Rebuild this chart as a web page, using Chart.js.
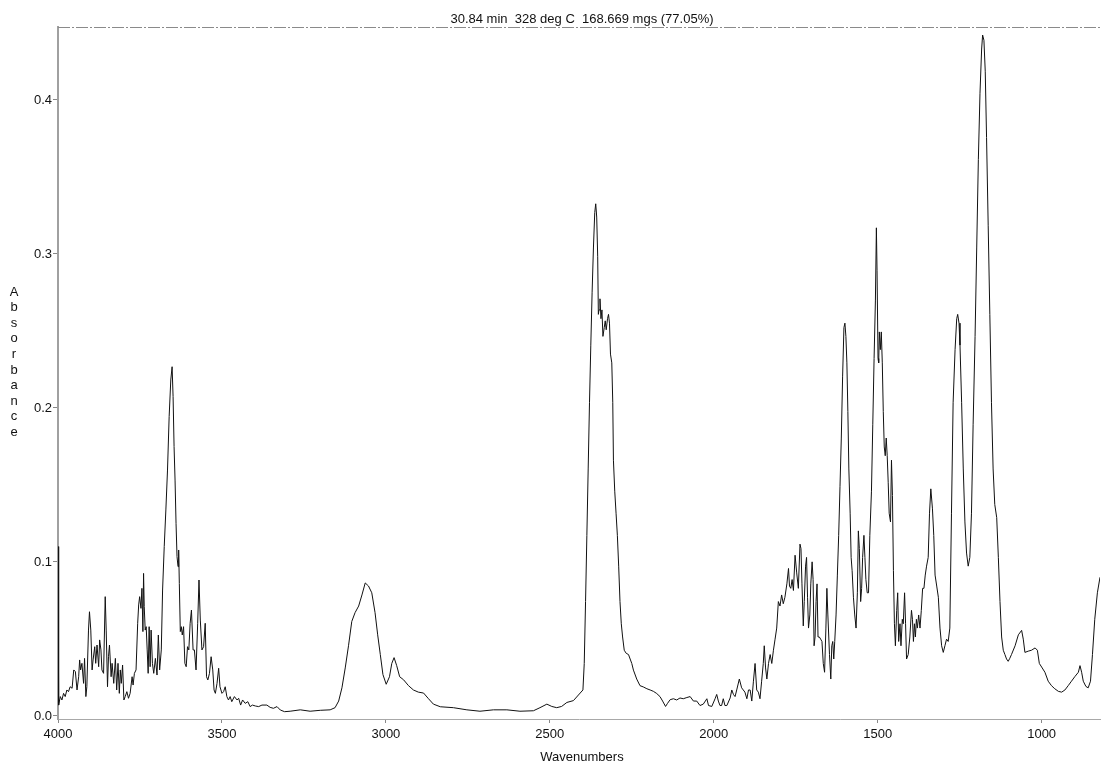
<!DOCTYPE html>
<html lang="en">

<head>
    <meta charset="UTF-8">
    <title>Absorbance spectrum</title>
    <script src="https://cdn.jsdelivr.net/npm/chart.js"></script>
    <style>
        body {
            margin: 0;
            background: #fff;
        }

        .chart-container {
            position: relative;
            width: 1101px;
            height: 762px;
        }
    </style>
</head>

<body>
    <div class="chart-container">
        <canvas id="spectrumChart"></canvas>
    </div>
    <script>
        // Spectrum points, wavenumber (cm-1) and absorbance
        const wavenumbers = [
            4000, 3998, 3993, 3988, 3983, 3978, 3973, 3968, 3963, 3957, 3952, 3947, 3942, 3937, 3934, 3931, 3927, 3922, 3919, 3915,
            3912, 3907, 3904, 3900, 3896, 3893, 3888, 3885, 3881, 3876, 3873, 3869, 3866, 3861, 3856, 3853, 3849, 3846, 3843, 3838,
            3835, 3830, 3825, 3821, 3817, 3813, 3810, 3807, 3803, 3799, 3795, 3790, 3785, 3780, 3774, 3771, 3767, 3762, 3757, 3754,
            3751, 3747, 3744, 3741, 3739, 3737, 3734, 3731, 3728, 3725, 3722, 3719, 3716, 3712, 3708, 3703, 3698, 3694, 3690, 3685,
            3681, 3676, 3671, 3666, 3661, 3656, 3652, 3649, 3646, 3643, 3640, 3637, 3634, 3632, 3630, 3627, 3624, 3621, 3617, 3613,
            3609, 3605, 3601, 3597, 3593, 3588, 3584, 3579, 3574, 3570, 3566, 3561, 3556, 3551, 3547, 3543, 3538, 3533, 3528, 3524,
            3520, 3515, 3510, 3506, 3500, 3495, 3490, 3485, 3480, 3475, 3470, 3462, 3454, 3449, 3443, 3437, 3429, 3421, 3414, 3407,
            3398, 3388, 3378, 3363, 3353, 3343, 3332, 3322, 3309,
            3292, 3261, 3231, 3200, 3170, 3155, 3144, 3134, 3124, 3114, 3104, 3094, 3083, 3073, 3063, 3053, 3043, 3033, 3025, 3017,
            3009, 2999, 2989, 2982, 2975, 2967, 2958, 2946, 2931, 2916, 2901, 2885, 2870, 2855, 2834, 2794, 2753, 2713, 2672, 2631,
            2591, 2550, 2530, 2509, 2494, 2479, 2464, 2448, 2428,
            2399, 2395, 2391, 2387, 2383, 2379, 2375, 2371, 2367, 2363, 2360, 2357, 2354, 2352, 2350, 2347, 2344, 2341, 2338, 2334,
            2331, 2328, 2324, 2321, 2318, 2315, 2311, 2308, 2306, 2302, 2298, 2294, 2290, 2286, 2282, 2278, 2273, 2267, 2260, 2255,
            2250, 2245, 2235, 2225, 2215, 2204, 2194, 2184, 2174, 2164, 2156, 2147, 2141, 2133, 2123, 2113, 2103, 2093, 2082, 2072,
            2062, 2052, 2042, 2032, 2021, 2016, 2006, 1996, 1991, 1986, 1981, 1976, 1971, 1966, 1960, 1950, 1945, 1940, 1935, 1930,
            1922, 1915, 1910, 1905, 1899, 1894, 1889, 1884, 1879, 1874, 1869, 1864, 1859, 1854, 1849, 1846, 1842, 1838, 1833, 1828,
            1823, 1818, 1813, 1808, 1803, 1798, 1793, 1788, 1783, 1777, 1772, 1769, 1765, 1761, 1757, 1752, 1747, 1742, 1737,
            1734, 1731, 1727, 1724, 1720, 1717, 1714, 1711, 1707, 1704, 1700, 1697, 1694, 1691, 1688, 1685, 1682, 1678, 1674, 1670,
            1666, 1662, 1658, 1655, 1652, 1647, 1643, 1640, 1637, 1634, 1631, 1627, 1623, 1619, 1615, 1611, 1607, 1603, 1600, 1597,
            1594, 1591, 1588, 1584, 1581, 1578, 1574, 1570, 1566, 1562, 1559, 1556, 1552, 1549, 1546, 1542, 1539, 1536, 1532, 1528,
            1524, 1519, 1515, 1511, 1507, 1504, 1502, 1499, 1497, 1495, 1492, 1489, 1486, 1483, 1480, 1477, 1474, 1471, 1468, 1465,
            1461, 1458, 1455, 1452, 1449, 1446, 1442, 1439, 1436, 1432, 1429, 1425, 1422, 1418, 1415, 1412, 1407, 1402, 1397, 1394,
            1391, 1388, 1385, 1382, 1379, 1375, 1371, 1367, 1363, 1359, 1355, 1351, 1346, 1342, 1338, 1333, 1329, 1325, 1320, 1315,
            1310, 1305, 1300, 1295, 1290, 1285, 1280,
            1275, 1270, 1264, 1259, 1256, 1252, 1249, 1244, 1239, 1234, 1229, 1224, 1219, 1214, 1209, 1203, 1198, 1193, 1188, 1183,
            1180, 1176, 1172, 1168, 1163, 1158, 1153, 1148, 1143, 1137, 1132, 1127, 1122, 1117, 1112, 1107, 1102, 1097, 1092, 1081,
            1071, 1061, 1056, 1051, 1041, 1031, 1020, 1013, 1007, 1000, 990, 980, 970, 960, 949, 939, 929, 919, 909, 899,
            888, 883, 878, 873, 865, 858, 851, 845, 838, 830, 822
        ];

        const absorbance = [
            0.110, 0.0071, 0.0126, 0.0104, 0.0147, 0.0126, 0.0169, 0.0158, 0.0190, 0.0180, 0.0299, 0.0288, 0.0169, 0.0255, 0.0364, 0.0299, 0.0342, 0.0212, 0.0374, 0.0126,
            0.0190, 0.0558, 0.0677, 0.0558, 0.0299, 0.0364, 0.0450, 0.0342, 0.0461, 0.0320, 0.0494, 0.0429, 0.0299, 0.0277, 0.0775, 0.0558, 0.0190, 0.0385, 0.0461, 0.0255,
            0.0342, 0.0212, 0.0374, 0.0169, 0.0342, 0.0147, 0.0299, 0.0212, 0.0331, 0.0104, 0.0126, 0.0158, 0.0115, 0.0147, 0.0255, 0.0201, 0.0277, 0.0299, 0.0602, 0.0721,
            0.0775, 0.0699, 0.0829, 0.0548, 0.0926, 0.0710, 0.0558, 0.0580, 0.0429, 0.0277, 0.0580, 0.0320, 0.0558, 0.0342, 0.0277, 0.0374, 0.0266, 0.0526, 0.0299, 0.0429,
            0.0818, 0.1100, 0.1338, 0.1597, 0.1944, 0.2182, 0.2268, 0.2074, 0.1749, 0.1532, 0.1251, 0.1035, 0.0970, 0.1078, 0.0861, 0.0548, 0.0580, 0.0526, 0.0580, 0.0342,
            0.0320, 0.0450, 0.0429, 0.0602, 0.0688, 0.0429, 0.0429, 0.0299, 0.0602, 0.0883, 0.0623, 0.0429, 0.0450, 0.0602, 0.0255, 0.0234, 0.0277, 0.0385, 0.0299, 0.0169,
            0.0147, 0.0212, 0.0310, 0.0190, 0.0147, 0.0158, 0.0190, 0.0126, 0.0104, 0.0126, 0.0093, 0.0126, 0.0104, 0.0115, 0.0071, 0.0104, 0.0082, 0.0093, 0.0061, 0.0071,
            0.0065, 0.0061, 0.0071, 0.0071, 0.0056, 0.0050, 0.0061, 0.0039, 0.0028,
            0.0031, 0.0040, 0.0031, 0.0037, 0.0040, 0.0054, 0.0097, 0.0183, 0.0312, 0.0456, 0.0614, 0.0671, 0.0714, 0.0786, 0.0864, 0.0844, 0.0800, 0.0671, 0.0527, 0.0399,
            0.0269, 0.0206, 0.0255, 0.0341, 0.0379, 0.0327, 0.0255, 0.0235, 0.0197, 0.0169, 0.0155, 0.0149, 0.0112, 0.0077, 0.0060, 0.0054, 0.0040, 0.0031, 0.0040, 0.0040,
            0.0031, 0.0034, 0.0054, 0.0077, 0.0062, 0.0054, 0.0062, 0.0088, 0.0100,
            0.0169, 0.0341, 0.0743, 0.1173, 0.1604, 0.2034, 0.2408, 0.2752, 0.3039, 0.3269, 0.3326, 0.3240, 0.2982, 0.2608, 0.2637, 0.2709, 0.2580, 0.2637, 0.2465, 0.2522,
            0.2566, 0.2508, 0.2580, 0.2608, 0.2551, 0.2350, 0.2293, 0.2034, 0.1661, 0.1460, 0.1317, 0.1173, 0.0973, 0.0743, 0.0599, 0.0513, 0.0427, 0.0407, 0.0399, 0.0370,
            0.0341, 0.0298, 0.0240, 0.0197, 0.0189, 0.0177, 0.0169, 0.0160, 0.0146, 0.0126, 0.0097, 0.0062, 0.0082, 0.0106, 0.0112, 0.0104, 0.0117, 0.0112, 0.0120, 0.0126,
            0.0097, 0.0097, 0.0068, 0.0077, 0.0112, 0.0068, 0.0062, 0.0112, 0.0140, 0.0097, 0.0068, 0.0068, 0.0112, 0.0068, 0.0068, 0.0117, 0.0169, 0.0140, 0.0126, 0.0169,
            0.0240, 0.0183, 0.0169, 0.0155, 0.0112, 0.0169, 0.0169, 0.0097, 0.0226, 0.0341, 0.0169, 0.0155, 0.0112, 0.0226, 0.0341, 0.0456, 0.0312, 0.0240, 0.0341, 0.0399,
            0.0341, 0.0427, 0.0499, 0.0571, 0.0743, 0.0714, 0.0786, 0.0729, 0.0771, 0.0858, 0.0958, 0.0844, 0.0829, 0.0886, 0.0815, 0.1044, 0.0929, 0.0829, 0.1116,
            0.1087, 0.0858, 0.0585, 0.0743, 0.0973, 0.1030, 0.0771, 0.0571, 0.0656, 0.0858, 0.1001, 0.0886, 0.0456, 0.0513, 0.0743, 0.0858, 0.0513, 0.0513, 0.0499, 0.0484,
            0.0341, 0.0284, 0.0571, 0.0829, 0.0656, 0.0399, 0.0240, 0.0456, 0.0484, 0.0370, 0.0484, 0.0656, 0.0915, 0.1173, 0.1489, 0.1805, 0.2207, 0.2522, 0.2551, 0.2465,
            0.2293, 0.1977, 0.1604, 0.1317, 0.1030, 0.0944, 0.0771, 0.0656, 0.0571, 0.0800, 0.1202, 0.1087, 0.0743, 0.0829, 0.1030, 0.1173, 0.1030, 0.0886, 0.0800, 0.0800,
            0.1173, 0.1460, 0.1891, 0.2321, 0.2695, 0.3170, 0.2895, 0.2321, 0.2293, 0.2494, 0.2379, 0.2494, 0.2293, 0.1977, 0.1747, 0.1690, 0.1805, 0.1690, 0.1518, 0.1317,
            0.1260, 0.1661, 0.1432, 0.0944, 0.0599, 0.0456, 0.0686, 0.0800, 0.0484, 0.0599, 0.0456, 0.0628, 0.0599, 0.0800, 0.0599, 0.0370, 0.0399, 0.0513, 0.0686, 0.0628,
            0.0484, 0.0599, 0.0513, 0.0628, 0.0571, 0.0656, 0.0571, 0.0686, 0.0829, 0.0829, 0.0915, 0.0973, 0.1030, 0.1317, 0.1475, 0.1345, 0.1173, 0.0915, 0.0844, 0.0771,
            0.0571, 0.0456, 0.0413, 0.0456, 0.0499, 0.0484, 0.0571,
            0.1317, 0.2034, 0.2379, 0.2580, 0.2608, 0.2551, 0.2408, 0.2034, 0.1604, 0.1260, 0.1058, 0.0973, 0.1030, 0.1317, 0.1891, 0.2465, 0.3039, 0.3613, 0.4044, 0.4331,
            0.4422, 0.4388, 0.4187, 0.3756, 0.3183, 0.2608, 0.2034, 0.1604, 0.1374, 0.1288, 0.1030, 0.0743, 0.0513, 0.0427, 0.0399, 0.0370, 0.0355, 0.0375, 0.0399, 0.0456,
            0.0527, 0.0556, 0.0499, 0.0413, 0.0421, 0.0427, 0.0442, 0.0427, 0.0341, 0.0318, 0.0284, 0.0226, 0.0197, 0.0177, 0.0160, 0.0155, 0.0169, 0.0197, 0.0226, 0.0255,
            0.0284, 0.0327, 0.0284, 0.0226, 0.0192, 0.0183, 0.0226, 0.0399, 0.0628, 0.0800, 0.0901
        ];

        const xTickValues = [4000, 3500, 3000, 2500, 2000, 1500, 1000];
        const yTickValues = [0, 0.1, 0.2, 0.3, 0.4];

        const headerText = '30.84 min  328 deg C  168.669 mgs (77.05%)';
        const xTitle = 'Wavenumbers';
        const yTitle = 'Absorbance';

        const FONT = '"Liberation Sans", Arial, sans-serif';

        // header line, stacked y title and dashed top frame
        const framePlugin = {
            id: 'frame',
            afterDraw(chart) {
                const { ctx, chartArea } = chart;
                ctx.save();

                ctx.strokeStyle = '#8a8a8a';
                ctx.lineWidth = 1;
                ctx.setLineDash([12, 2, 2, 2]);
                ctx.beginPath();
                ctx.moveTo(chartArea.left, chartArea.top + 0.5);
                ctx.lineTo(chartArea.right, chartArea.top + 0.5);
                ctx.stroke();
                ctx.setLineDash([]);

                ctx.fillStyle = '#111';
                ctx.font = '13px ' + FONT;
                ctx.textAlign = 'center';
                ctx.textBaseline = 'middle';
                const mid = (chartArea.left + chartArea.right) / 2 + 3;
                ctx.fillText(headerText, mid, 19);
                ctx.fillText(xTitle, mid, 757);

                for (let i = 0; i < yTitle.length; i++) {
                    ctx.fillText(yTitle[i], 14, 292 + i * 15.6);
                }
                ctx.restore();
            }
        };

        document.addEventListener('DOMContentLoaded', function () {
            const ctx = document.getElementById('spectrumChart').getContext('2d');
            new Chart(ctx, {
                type: 'line',
                data: {
                    datasets: [{
                        data: wavenumbers.map((w, i) => ({ x: w, y: absorbance[i] })),
                        borderColor: '#111',
                        borderWidth: 1,
                        pointRadius: 0,
                        tension: 0,
                        fill: false
                    }]
                },
                options: {
                    responsive: true,
                    maintainAspectRatio: false,
                    animation: false,
                    layout: {
                        padding: { top: 27, right: 1, left: 0, bottom: 0 }
                    },
                    plugins: {
                        legend: { display: false },
                        tooltip: { enabled: false },
                        title: { display: false }
                    },
                    scales: {
                        x: {
                            type: 'linear',
                            reverse: true,
                            min: 822,
                            max: 4000,
                            afterBuildTicks: scale => {
                                scale.ticks = xTickValues.map(v => ({ value: v }));
                            },
                            afterFit: scale => { scale.height = 43; },
                            grid: {
                                drawOnChartArea: false,
                                tickLength: 4,
                                color: '#888'
                            },
                            border: { color: '#a8a8a8', width: 1, dash: [6, 2, 1, 2] },
                            ticks: {
                                padding: 4,
                                maxRotation: 0,
                                color: '#111',
                                font: { family: FONT, size: 13 },
                                callback: v => String(v)
                            }
                        },
                        y: {
                            min: -0.00195,
                            max: 0.4474,
                            afterBuildTicks: scale => {
                                scale.ticks = yTickValues.map(v => ({ value: v }));
                            },
                            afterFit: scale => { scale.width = 58; },
                            grid: {
                                drawOnChartArea: false,
                                tickLength: 5,
                                color: '#888'
                            },
                            border: { color: '#a0a0a0', width: 2 },
                            ticks: {
                                padding: 1,
                                color: '#111',
                                font: { family: FONT, size: 13 },
                                callback: v => v.toFixed(1)
                            }
                        }
                    }
                },
                plugins: [framePlugin]
            });
        });
    </script>
</body>

</html>
